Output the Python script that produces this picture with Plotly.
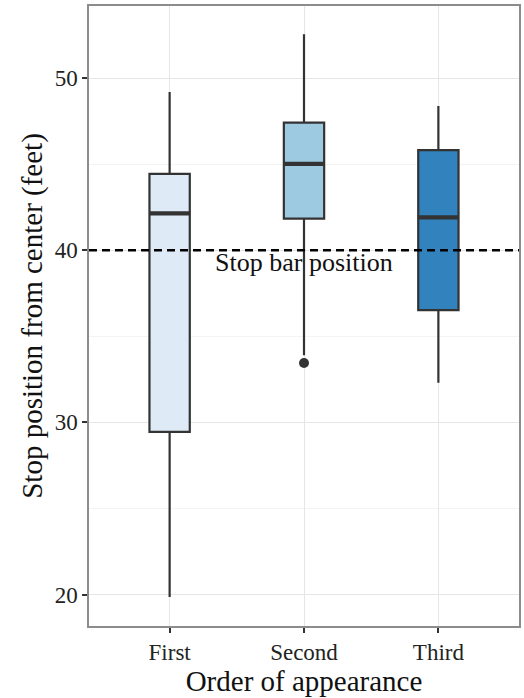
import plotly.graph_objects as go

categories = ["First", "Second", "Third"]
lower_whisker = [19.85, 33.9, 32.3]
q1 = [29.45, 41.84, 36.53]
median = [42.15, 45.02, 41.92]
q3 = [44.44, 47.42, 45.83]
upper_whisker = [49.2, 52.56, 48.39]
fill_colors = ["#deebf7", "#9ecae1", "#3182bd"]
outlier_x = ["Second"]
outlier_y = [33.45]
stop_bar = 40
stop_bar_label = "Stop bar position"

FONT = "Liberation Serif, Times New Roman, serif"
LINE = "#333333"

fig = go.Figure()
for i, cat in enumerate(categories):
    fig.add_trace(go.Box(
        x=[cat], q1=[q1[i]], median=[median[i]], q3=[q3[i]],
        lowerfence=[lower_whisker[i]], upperfence=[upper_whisker[i]],
        fillcolor=fill_colors[i], line=dict(color=LINE, width=2.2),
        whiskerwidth=0, width=0.3, boxpoints=False, showlegend=False,
        hoverinfo="skip",
    ))

# thicker median line (ggplot fatten)
fig.add_trace(go.Scatter(
    x=categories, y=median, mode="markers",
    marker=dict(symbol="line-ew", size=29.5, line=dict(color=LINE, width=4.2)),
    showlegend=False, hoverinfo="skip",
))

fig.add_trace(go.Scatter(
    x=outlier_x, y=outlier_y, mode="markers",
    marker=dict(symbol="circle", size=10, color=LINE),
    showlegend=False, hoverinfo="skip",
))

fig.add_hline(y=stop_bar, line=dict(color="black", width=2.5, dash="8px,5px"), layer="above")
fig.add_annotation(x="Second", y=stop_bar, text=stop_bar_label, showarrow=False,
                   yanchor="middle", yshift=-12,
                   font=dict(family=FONT, size=26, color="#111111"))

fig.update_layout(
    width=524, height=698,
    margin=dict(l=89, r=3, t=6, b=72),
    paper_bgcolor="white", plot_bgcolor="white",
    font=dict(family=FONT, color="#222222"),
    showlegend=False,
)
fig.update_xaxes(
    type="category", categoryorder="array", categoryarray=categories,
    range=[-0.6, 2.6],
    showgrid=True, gridcolor="#e6e6e6", gridwidth=1,
    showline=True, mirror=True, linecolor="#8c8c8c", linewidth=1.5,
    ticks="outside", ticklen=5, tickwidth=2, tickcolor="#333333",
    tickfont=dict(family=FONT, size=23, color="#222222"),
    title=dict(text="Order of appearance", font=dict(family=FONT, size=29, color="#111111"), standoff=3),
    zeroline=False,
)
fig.update_yaxes(
    range=[18.17, 54.2], dtick=10, tick0=0,
    showgrid=True, gridcolor="#e6e6e6", gridwidth=1,
    minor=dict(dtick=5, tick0=0, showgrid=True, gridcolor="#f4f4f4", gridwidth=1),
    showline=True, mirror=True, linecolor="#8c8c8c", linewidth=1.5,
    ticks="outside", ticklen=5, tickwidth=2, tickcolor="#333333",
    tickfont=dict(family=FONT, size=23, color="#222222"),
    title=dict(text="Stop position from center (feet)", font=dict(family=FONT, size=29, color="#111111"), standoff=4),
    zeroline=False,
)

fig.write_html("out.html")
